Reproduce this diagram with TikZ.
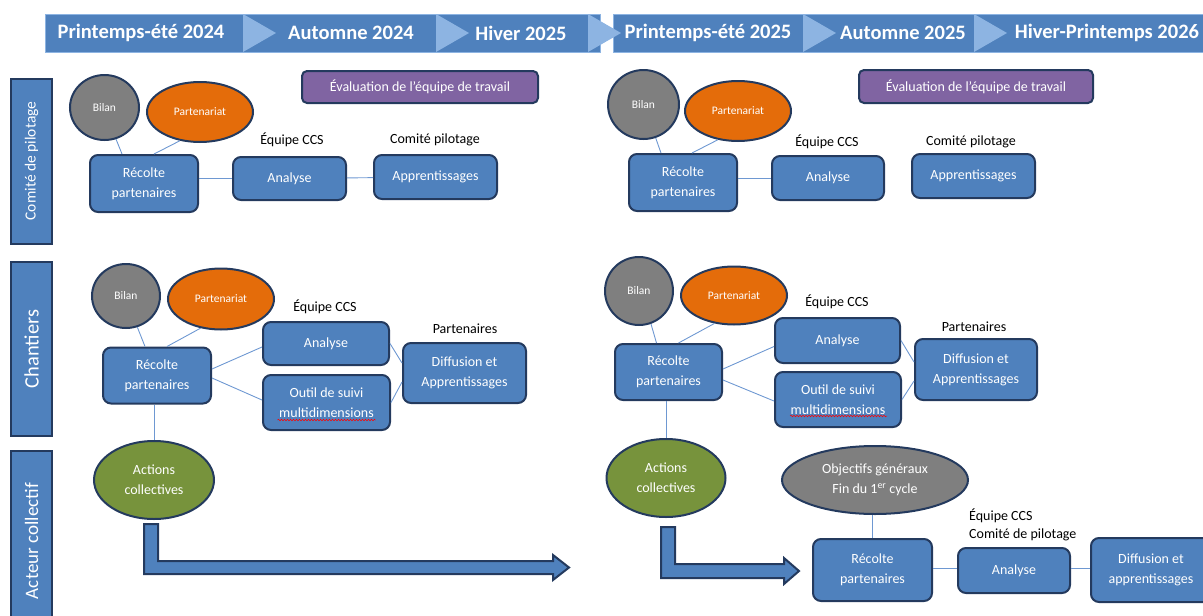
\documentclass[tikz,border=0pt]{standalone}
\usepackage{fontspec}
\setmainfont{Carlito}
\usetikzlibrary{shapes.geometric,calc,decorations.pathmorphing}

\definecolor{bleu}{RGB}{79,129,189}
\definecolor{bleuclair}{RGB}{141,180,226}
\definecolor{marine}{RGB}{36,58,94}
\definecolor{gris}{RGB}{127,127,127}
\definecolor{orangeP}{RGB}{228,108,10}
\definecolor{mauve}{RGB}{128,100,162}
\definecolor{vert}{RGB}{119,147,60}
\definecolor{trait}{RGB}{110,152,210}

\newcommand{\txtbody}{\fontsize{14}{20}\selectfont}
\newcommand{\txtsmall}{\fontsize{11.5}{14}\selectfont}
\newcommand{\txthead}{\fontsize{20.5}{24}\selectfont\bfseries}

\begin{document}
\begin{tikzpicture}[x=1pt,y=-1pt]
\tikzstyle{every node}+=[inner sep=0pt]
\tikzstyle{boite}=[draw=marine, line width=2pt, fill=bleu, rounded corners=8pt, text=white, align=center, font=\txtbody]
\tikzstyle{rond}=[ellipse, draw=marine, line width=2pt, text=white, align=center]
\tikzstyle{cote}=[draw=marine, line width=2pt, fill=bleu, text=white, minimum height=41pt, rotate=90]
\tikzstyle{etiq}=[font=\txtbody, text=black]
\tikzstyle{lien}=[trait, line width=0.9pt]
\tikzstyle{fleche}=[draw=marine, line width=2pt, fill=bleu, line join=miter]
\useasboundingbox (0,0) rectangle (1203,616);
% en-tete
\fill [bleu, draw=bleuclair, line width=0.6pt] (45,14) rectangle (600,52);
\fill [bleu, draw=bleuclair, line width=0.6pt] (613,14) rectangle (1203,52);
\foreach \x in {243,436,588,803,974}
  \fill [bleuclair] (\x,14) -- (\x+33,33) -- (\x,52) -- cycle;
\node [text=white, font=\txthead] (h1) at (141,33) {Printemps-été 2024};
\node [text=white, font=\txthead] (h2) at (351,33) {Automne 2024};
\node [text=white, font=\txthead] (h3) at (521,33) {Hiver 2025};
\node [text=white, font=\txthead] (h4) at (708,33) {Printemps-été 2025};
\node [text=white, font=\txthead] (h5) at (903,33) {Automne 2025};
\node [text=white, font=\txthead] (h6) at (1107,33) {Hiver-Printemps 2026};
% colonne de gauche
\node [cote, minimum width=165pt, font=\fontsize{15.5}{18}\selectfont] (labC) at (31.5,161) {Comité de pilotage};
\node [cote, minimum width=174pt, font=\fontsize{20.5}{24}\selectfont] (labB) at (31.5,349) {Chantiers};
\node [cote, minimum width=180pt, font=\fontsize{19}{22}\selectfont] (labA) at (31.5,541) {Acteur collectif};
% comite de pilotage, 2024
\node [rond, fill=gris, minimum width=69pt, minimum height=65pt, font=\txtsmall] (bilA) at (104.5,107.5) {Bilan};
\node [rond, fill=orangeP, minimum width=106pt, minimum height=60pt, font=\txtsmall] (parA) at (200,112) {Partenariat};
\node [boite, minimum width=108pt, minimum height=57pt] (recA) at (144,183.5) {Récolte\\partenaires};
\node [boite, minimum width=113pt, minimum height=43pt] (anaA) at (289.5,178.5) {Analyse};
\node [boite, minimum width=123pt, minimum height=44pt] (appA) at (435.5,177) {Apprentissages};
\node [boite, fill=mauve, rounded corners=5pt, minimum width=236pt, minimum height=32pt] (evaA) at (420,87) {Évaluation de l’équipe de travail};
\node [etiq] (eqA) at (292,140) {Équipe CCS};
\node [etiq] (cpA) at (435,140) {Comité pilotage};
\draw [lien] (bilA.290) -- ([xshift=-22pt]recA.north);
\draw [lien] (parA.235) -- ([xshift=10pt]recA.north);
\draw [lien] (recA.east |- anaA) -- (anaA.west);
\draw [lien] (anaA) -- (appA);
% comite de pilotage, 2025
\node [rond, fill=gris, minimum width=71pt, minimum height=69pt, font=\txtsmall] (bilC) at (643.5,104.5) {Bilan};
\node [rond, fill=orangeP, minimum width=106pt, minimum height=60pt, font=\txtsmall] (parC) at (738,111) {Partenariat};
\node [boite, minimum width=108pt, minimum height=57pt] (recC) at (683,182.5) {Récolte\\partenaires};
\node [boite, minimum width=112pt, minimum height=44pt] (anaC) at (828,178) {Analyse};
\node [boite, minimum width=123pt, minimum height=44pt] (appC) at (973.5,176) {Apprentissages};
\node [boite, fill=mauve, rounded corners=5pt, minimum width=234pt, minimum height=33pt] (evaC) at (976,86.5) {Évaluation de l’équipe de travail};
\node [etiq] (eqC) at (827,142) {Équipe CCS};
\node [etiq] (cpC) at (971,142) {Comité pilotage};
\draw [lien] (bilC.290) -- ([xshift=-22pt]recC.north);
\draw [lien] (parC.235) -- ([xshift=9pt]recC.north);
\draw [lien] (recC.east |- anaC) -- (anaC.west);
% chantiers, 2024
\node [rond, fill=gris, minimum width=68pt, minimum height=64pt, font=\txtsmall] (bilB) at (126,296) {Bilan};
\node [rond, fill=orangeP, minimum width=106pt, minimum height=61pt, font=\txtsmall] (parB) at (221,299) {Partenariat};
\node [boite, minimum width=108pt, minimum height=56pt] (recB) at (157,375.5) {Récolte\\partenaires};
\node [boite, minimum width=126pt, minimum height=43pt] (anaB) at (326,343.5) {Analyse};
\node [boite, minimum width=127pt, minimum height=55pt] (outB) at (326.5,402.5) {Outil de suivi\\multidimensions};
\node [boite, minimum width=123pt, minimum height=60pt] (difB) at (464.5,373) {Diffusion et\\Apprentissages};
\node [etiq] (eqB) at (325,307) {Équipe CCS};
\node [etiq] (paB) at (465,329) {Partenaires};
\draw [red, line width=0.5pt, decorate, decoration={snake, amplitude=0.8pt, segment length=3pt}] ($(outB.center)+(-49,17.5)$) -- ($(outB.center)+(49,17.5)$);
\draw [lien] (bilB.290) -- ([xshift=-12pt]recB.north);
\draw [lien] (parB.235) -- ([xshift=10pt]recB.north);
\draw [lien] ([yshift=6.5pt]recB.east) -- ([yshift=-3.5pt]anaB.west);
\draw [lien] ([yshift=-2.5pt]recB.east) -- ([yshift=2.5pt]outB.west);
\draw [lien] (anaB.east) -- ([yshift=10pt]difB.west);
\draw [lien] (outB.east) -- ([yshift=-9pt]difB.west);
% chantiers, 2025
\node [rond, fill=gris, minimum width=68pt, minimum height=68pt, font=\txtsmall] (bilD) at (639,291) {Bilan};
\node [rond, fill=orangeP, minimum width=106pt, minimum height=58pt, font=\txtsmall] (parD) at (734,295.5) {Partenariat};
\node [boite, minimum width=107pt, minimum height=56pt] (recD) at (668.5,372) {Récolte\\partenaires};
\node [boite, minimum width=125pt, minimum height=45pt] (anaD) at (837.5,340.5) {Analyse};
\node [boite, minimum width=126pt, minimum height=55pt] (outD) at (838,399.5) {Outil de suivi\\multidimensions};
\node [boite, minimum width=122pt, minimum height=61pt] (difD) at (976,369.5) {Diffusion et\\Apprentissages};
\node [etiq] (eqD) at (837,302) {Équipe CCS};
\node [etiq] (paD) at (974,327) {Partenaires};
\draw [red, line width=0.5pt, decorate, decoration={snake, amplitude=0.8pt, segment length=3pt}] ($(outD.center)+(-48,16.5)$) -- ($(outD.center)+(49,16.5)$);
\draw [lien] (bilD.290) -- ([xshift=-12pt]recD.north);
\draw [lien] (parD.235) -- ([xshift=10pt]recD.north);
\draw [lien] ([yshift=3pt]recD.east) -- ([yshift=-6pt]anaD.west);
\draw [lien] ([yshift=-8pt]recD.east) -- ([yshift=-1.5pt]outD.west);
\draw [lien] (anaD.east) -- ([yshift=7.5pt]difD.west);
\draw [lien] (outD.east) -- ([yshift=-11.5pt]difD.west);
% acteur collectif
\node [rond, fill=vert, minimum width=120pt, minimum height=78pt, font=\txtbody] (actB) at (154,480) {Actions\\collectives};
\node [rond, fill=vert, minimum width=119pt, minimum height=78pt, font=\txtbody] (actD) at (666,478) {Actions\\collectives};
\draw [lien] (recB.south -| actB.north) -- (actB.north);
\draw [lien] (recD.south -| actD.north) -- (actD.north);
\fill [fleche] (144,524) -- (158,524) -- (158,561) -- (553,561) -- (553,555) -- (569,567.5) -- (553,580) -- (553,574) -- (144,574) -- cycle;
\fill [fleche] (661,527) -- (675,527) -- (675,564) -- (784,564) -- (784,558) -- (799,571) -- (784,584) -- (784,578) -- (661,578) -- cycle;
\node [rond, fill=gris, minimum width=186pt, minimum height=68pt, font=\txtbody] (objE) at (875,480) {Objectifs généraux\\Fin du 1\textsuperscript{er} cycle};
\node [boite, minimum width=119pt, minimum height=62pt] (recE) at (872.5,570) {Récolte\\partenaires};
\node [boite, minimum width=112pt, minimum height=45pt] (anaE) at (1014,570.5) {Analyse};
\node [boite, minimum width=120pt, minimum height=64pt] (difE) at (1151,570) {Diffusion et\\apprentissages};
\node [etiq, anchor=west] (eqE) at (969,516) {Équipe CCS};
\node [etiq, anchor=west] (cpE) at (969,535) {Comité de pilotage};
\draw [lien] (objE.south -| recE.north) -- (recE.north);
\draw [lien] (recE.east |- 0,568) -- (anaE.west |- 0,568);
\draw [lien] (anaE.east |- 0,568) -- (difE.west |- 0,568);
\end{tikzpicture}
\end{document}
